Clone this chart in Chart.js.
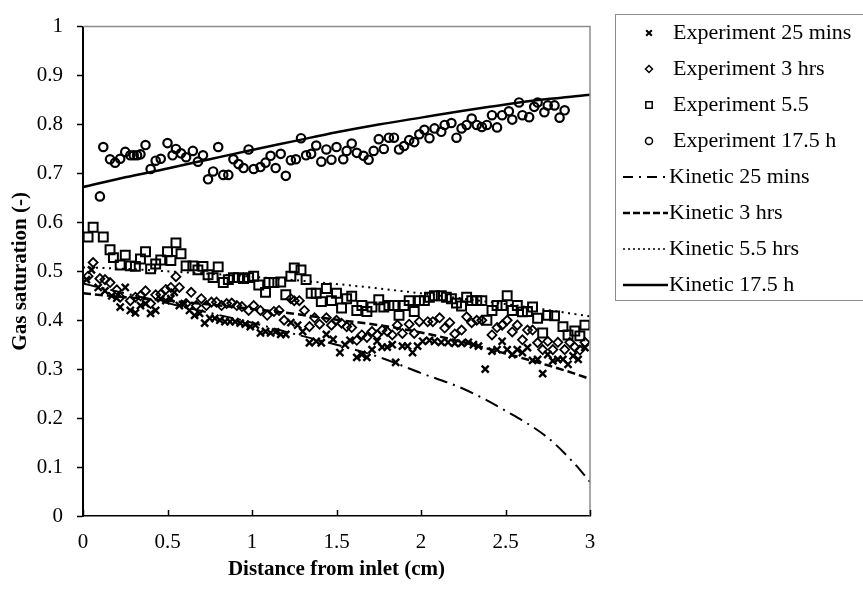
<!DOCTYPE html>
<html>
<head>
<meta charset="utf-8">
<script src="https://cdn.jsdelivr.net/npm/chart.js@4.4.1/dist/chart.umd.min.js"></script>
<style>
body { margin: 0; background: #fff; }
#wrap { width: 863px; height: 590px; }
</style>
</head>
<body>
<div id="wrap"><canvas id="chart"></canvas></div>
<script>
// Experiment 25 mins
const x25 = [0.02, 0.05, 0.09, 0.13, 0.17, 0.20, 0.22, 0.25, 0.28, 0.31, 0.34, 0.37, 0.40, 0.43, 0.46, 0.49, 0.52, 0.54, 0.57, 0.60,
  0.63, 0.66, 0.69, 0.72, 0.75, 0.78, 0.81, 0.84, 0.87, 0.90, 0.93, 0.96, 0.99, 1.02, 1.05, 1.08, 1.11, 1.14, 1.17, 1.20,
  1.23, 1.27, 1.30, 1.34, 1.38, 1.41, 1.44, 1.48, 1.52, 1.55, 1.58, 1.62, 1.65, 1.68, 1.71, 1.74, 1.77, 1.80, 1.83, 1.85,
  1.89, 1.92, 1.95, 1.98, 2.01, 2.05, 2.08, 2.12, 2.16, 2.20, 2.24, 2.28, 2.31, 2.34, 2.38, 2.42, 2.45, 2.48, 2.51, 2.54,
  2.57, 2.60, 2.63, 2.66, 2.69, 2.72, 2.75, 2.78, 2.81, 2.84, 2.87, 2.90, 2.93, 2.97];
const y25 = [0.483, 0.503, 0.467, 0.46, 0.45, 0.445, 0.427, 0.467, 0.42, 0.415, 0.43, 0.434, 0.414, 0.42, 0.444, 0.44, 0.444, 0.457, 0.43, 0.434,
  0.42, 0.41, 0.414, 0.394, 0.404, 0.404, 0.40, 0.397, 0.397, 0.397, 0.394, 0.392, 0.387, 0.39, 0.374, 0.377, 0.374, 0.376, 0.371, 0.371,
  0.395, 0.39, 0.377, 0.354, 0.357, 0.354, 0.371, 0.361, 0.334, 0.35, 0.359, 0.324, 0.33, 0.324, 0.34, 0.357, 0.345, 0.345, 0.35, 0.314,
  0.347, 0.347, 0.334, 0.347, 0.357, 0.359, 0.357, 0.355, 0.355, 0.353, 0.353, 0.355, 0.35, 0.347, 0.30, 0.337, 0.34, 0.357, 0.34, 0.33,
  0.34, 0.334, 0.344, 0.318, 0.32, 0.291, 0.33, 0.317, 0.32, 0.32, 0.31, 0.327, 0.32, 0.344];

// Experiment 3 hrs
const x3 = [0.03, 0.06, 0.10, 0.13, 0.16, 0.20, 0.22, 0.28, 0.31, 0.34, 0.37, 0.40, 0.43, 0.46, 0.49, 0.52, 0.55, 0.57, 0.61, 0.64,
  0.67, 0.70, 0.73, 0.76, 0.79, 0.82, 0.85, 0.88, 0.91, 0.94, 0.98, 1.01, 1.05, 1.09, 1.13, 1.16, 1.19, 1.23, 1.25, 1.28,
  1.31, 1.34, 1.37, 1.40, 1.44, 1.47, 1.50, 1.53, 1.56, 1.59, 1.62, 1.65, 1.68, 1.71, 1.74, 1.77, 1.80, 1.83, 1.86, 1.89,
  1.93, 1.96, 1.99, 2.04, 2.07, 2.11, 2.14, 2.17, 2.20, 2.24, 2.27, 2.30, 2.33, 2.36, 2.42, 2.45, 2.48, 2.51, 2.54, 2.57,
  2.60, 2.63, 2.66, 2.69, 2.72, 2.75, 2.78, 2.81, 2.85, 2.88, 2.91, 2.94, 2.97];
const y3 = [0.49, 0.518, 0.485, 0.483, 0.477, 0.462, 0.447, 0.44, 0.447, 0.45, 0.46, 0.434, 0.452, 0.453, 0.463, 0.467, 0.489, 0.467, 0.434, 0.457,
  0.43, 0.444, 0.43, 0.437, 0.437, 0.43, 0.434, 0.435, 0.43, 0.428, 0.42, 0.43, 0.42, 0.41, 0.418, 0.42, 0.40, 0.444, 0.44, 0.44,
  0.42, 0.387, 0.405, 0.392, 0.405, 0.39, 0.40, 0.394, 0.387, 0.385, 0.359, 0.37, 0.365, 0.377, 0.37, 0.38, 0.377, 0.37, 0.39, 0.373,
  0.392, 0.373, 0.397, 0.397, 0.397, 0.405, 0.384, 0.395, 0.372, 0.38, 0.407, 0.395, 0.40, 0.40, 0.37, 0.385, 0.39, 0.40, 0.376, 0.39,
  0.36, 0.38, 0.38, 0.354, 0.34, 0.357, 0.34, 0.355, 0.34, 0.355, 0.345, 0.339, 0.355];

// Experiment 5.5
const x55 = [0.03, 0.06, 0.12, 0.16, 0.18, 0.22, 0.25, 0.28, 0.31, 0.34, 0.37, 0.40, 0.43, 0.46, 0.50, 0.52, 0.55, 0.58, 0.61, 0.65,
  0.68, 0.71, 0.74, 0.77, 0.80, 0.83, 0.86, 0.89, 0.92, 0.95, 0.98, 1.01, 1.04, 1.08, 1.10, 1.13, 1.17, 1.20, 1.23, 1.25,
  1.29, 1.32, 1.35, 1.38, 1.41, 1.44, 1.47, 1.50, 1.53, 1.56, 1.59, 1.62, 1.65, 1.68, 1.71, 1.75, 1.78, 1.81, 1.84, 1.87,
  1.90, 1.93, 1.96, 1.99, 2.02, 2.05, 2.08, 2.12, 2.15, 2.18, 2.21, 2.24, 2.27, 2.30, 2.33, 2.36, 2.39, 2.42, 2.45, 2.48,
  2.51, 2.54, 2.57, 2.60, 2.63, 2.66, 2.69, 2.72, 2.75, 2.79, 2.84, 2.87, 2.91, 2.94, 2.97];
const y55 = [0.57, 0.59, 0.57, 0.544, 0.528, 0.513, 0.533, 0.511, 0.51, 0.525, 0.54, 0.505, 0.515, 0.523, 0.54, 0.522, 0.558, 0.536, 0.511, 0.511,
  0.503, 0.51, 0.493, 0.487, 0.509, 0.477, 0.483, 0.487, 0.487, 0.485, 0.487, 0.49, 0.472, 0.457, 0.477, 0.477, 0.478, 0.452, 0.49, 0.507,
  0.503, 0.483, 0.455, 0.455, 0.438, 0.465, 0.44, 0.455, 0.425, 0.444, 0.449, 0.42, 0.43, 0.418, 0.427, 0.442, 0.427, 0.43, 0.43, 0.41,
  0.43, 0.44, 0.418, 0.44, 0.44, 0.447, 0.45, 0.45, 0.447, 0.444, 0.435, 0.429, 0.447, 0.44, 0.44, 0.44, 0.40, 0.42, 0.43, 0.43,
  0.45, 0.42, 0.43, 0.417, 0.418, 0.427, 0.404, 0.374, 0.41, 0.409, 0.387, 0.37, 0.378, 0.368, 0.39];

// Experiment 17.5 h
const x175 = [0.10, 0.12, 0.16, 0.19, 0.22, 0.25, 0.28, 0.30, 0.32, 0.34, 0.37, 0.40, 0.43, 0.46, 0.50, 0.53, 0.55, 0.58, 0.61, 0.65,
  0.68, 0.71, 0.74, 0.77, 0.80, 0.83, 0.86, 0.89, 0.92, 0.95, 0.98, 1.01, 1.05, 1.08, 1.11, 1.14, 1.17, 1.20, 1.23, 1.26,
  1.29, 1.32, 1.35, 1.38, 1.41, 1.44, 1.47, 1.50, 1.54, 1.56, 1.59, 1.62, 1.66, 1.69, 1.72, 1.75, 1.78, 1.81, 1.84, 1.87,
  1.90, 1.93, 1.96, 1.99, 2.02, 2.05, 2.08, 2.12, 2.14, 2.18, 2.21, 2.24, 2.27, 2.30, 2.33, 2.36, 2.39, 2.42, 2.45, 2.48,
  2.52, 2.54, 2.58, 2.60, 2.64, 2.67, 2.69, 2.73, 2.75, 2.79, 2.82, 2.85];
const y175 = [0.653, 0.754, 0.729, 0.722, 0.73, 0.744, 0.737, 0.737, 0.737, 0.739, 0.758, 0.709, 0.726, 0.73, 0.762, 0.737, 0.75, 0.741, 0.733, 0.746,
  0.724, 0.737, 0.688, 0.704, 0.754, 0.697, 0.697, 0.729, 0.719, 0.711, 0.749, 0.709, 0.713, 0.722, 0.736, 0.711, 0.74, 0.695, 0.727, 0.729,
  0.772, 0.737, 0.74, 0.757, 0.724, 0.749, 0.728, 0.754, 0.729, 0.746, 0.761, 0.742, 0.736, 0.728, 0.746, 0.77, 0.75, 0.773, 0.773, 0.749,
  0.756, 0.768, 0.764, 0.78, 0.789, 0.772, 0.792, 0.785, 0.799, 0.803, 0.773, 0.792, 0.799, 0.812, 0.799, 0.795, 0.799, 0.819, 0.794, 0.819,
  0.827, 0.81, 0.845, 0.819, 0.815, 0.836, 0.845, 0.825, 0.839, 0.839, 0.814, 0.829];

// Kinetic model curves
const kinX = [0, 0.25, 0.5, 0.75, 1, 1.25, 1.5, 1.75, 2, 2.25, 2.5, 2.75, 2.9, 3];
const kin25 = [0.475, 0.455, 0.435, 0.415, 0.395, 0.372, 0.35, 0.325, 0.292, 0.26, 0.215, 0.16, 0.11, 0.07];
const kin3 = [0.455, 0.447, 0.44, 0.432, 0.423, 0.413, 0.401, 0.39, 0.375, 0.355, 0.332, 0.308, 0.292, 0.28];
const kin55 = [0.508, 0.505, 0.50, 0.495, 0.489, 0.482, 0.474, 0.465, 0.455, 0.444, 0.433, 0.421, 0.413, 0.408];
const kin175 = [0.672, 0.692, 0.71, 0.729, 0.748, 0.766, 0.784, 0.80, 0.814, 0.828, 0.841, 0.852, 0.857, 0.861];

const xTicks = [0, 0.5, 1, 1.5, 2, 2.5, 3];

function pts(xs, ys) {
    return xs.map(function (x, i) { return { x: x, y: ys[i] }; });
}

function fmt(v) {
    return String(Number(v.toFixed(1)));
}

const serif = 'Liberation Serif, Times New Roman, serif';

function markerSet(label, xs, ys, style, r, bw) {
    return {
        label: label, data: pts(xs, ys), showLine: false, order: 1,
        pointStyle: style, pointRadius: r, pointHoverRadius: r,
        pointBorderWidth: bw, pointBorderColor: '#000', pointBackgroundColor: 'rgba(0,0,0,0)'
    };
}

function lineSet(label, ys, dash, w) {
    return {
        label: label, data: pts(kinX, ys), showLine: true, order: 0,
        borderColor: '#000', borderWidth: w, borderDash: dash,
        pointRadius: 0, cubicInterpolationMode: 'monotone'
    };
}

const legendItems = [
    { text: 'Experiment 25 mins', style: 'crossRot', r: 4, bw: 2 },
    { text: 'Experiment 3 hrs', style: 'rectRot', r: 3.5, bw: 1.5 },
    { text: 'Experiment 5.5', style: 'rect', r: 4.5, bw: 1.5 },
    { text: 'Experiment 17.5 h', style: 'circle', r: 3.5, bw: 1.5 },
    { text: 'Kinetic 25 mins', dash: [10, 6, 2, 6], w: 2 },
    { text: 'Kinetic 3 hrs', dash: [7, 3], w: 2.5 },
    { text: 'Kinetic 5.5 hrs', dash: [2, 3], w: 1.5 },
    { text: 'Kinetic 17.5 h', dash: [], w: 2.5 }
];

const decorPlugin = {
    id: 'decor',
    afterDraw: function (chart) {
        const ctx = chart.ctx;
        const a = chart.chartArea;
        const xs = chart.scales.x;
        ctx.save();
        // grey frame on top and right
        ctx.strokeStyle = '#8c8c8c';
        ctx.lineWidth = 1.5;
        ctx.beginPath();
        ctx.moveTo(a.left, a.top);
        ctx.lineTo(a.right, a.top);
        ctx.lineTo(a.right, a.bottom);
        ctx.stroke();
        // inward x ticks
        ctx.strokeStyle = '#000';
        ctx.lineWidth = 1.5;
        xTicks.forEach(function (v) {
            const px = Math.round(xs.getPixelForValue(v)) + 0.5;
            ctx.beginPath();
            ctx.moveTo(px, a.bottom);
            ctx.lineTo(px, a.bottom - 6);
            ctx.stroke();
        });
        // legend
        ctx.strokeStyle = '#8c8c8c';
        ctx.lineWidth = 1;
        ctx.strokeRect(615.5, 14.5, 270, 286);
        ctx.font = '22px ' + serif;
        ctx.fillStyle = '#000';
        ctx.textBaseline = 'middle';
        legendItems.forEach(function (it, i) {
            const y = 33 + i * 36;
            ctx.strokeStyle = '#000';
            if (it.style) {
                ctx.lineWidth = it.bw;
                ctx.setLineDash([]);
                ctx.fillStyle = 'rgba(0,0,0,0)';
                Chart.helpers.drawPoint(ctx, { pointStyle: it.style, radius: it.r, borderWidth: it.bw, rotation: 0 }, 649, y);
                ctx.fillStyle = '#000';
                ctx.fillText(it.text, 673, y);
            } else {
                ctx.lineWidth = it.w;
                ctx.setLineDash(it.dash);
                ctx.beginPath();
                ctx.moveTo(623, y);
                ctx.lineTo(668, y);
                ctx.stroke();
                ctx.setLineDash([]);
                ctx.fillStyle = '#000';
                ctx.fillText(it.text, 669, y);
            }
        });
        ctx.restore();
    }
};

new Chart(document.getElementById('chart'), {
    type: 'scatter',
    data: {
        datasets: [
            lineSet('Kinetic 25 mins', kin25, [14, 6, 2, 6], 2),
            lineSet('Kinetic 3 hrs', kin3, [8, 4], 2.5),
            lineSet('Kinetic 5.5 hrs', kin55, [2, 4.5], 2),
            lineSet('Kinetic 17.5 h', kin175, [], 2.5),
            markerSet('Experiment 25 mins', x25, y25, 'crossRot', 5, 2.4),
            markerSet('Experiment 3 hrs', x3, y3, 'rectRot', 4.5, 1.8),
            markerSet('Experiment 5.5', x55, y55, 'rect', 6.3, 2),
            markerSet('Experiment 17.5 h', x175, y175, 'circle', 4.2, 2.2)
        ]
    },
    options: {
        responsive: true,
        maintainAspectRatio: false,
        animation: false,
        devicePixelRatio: 1,
        layout: { padding: { top: 14, right: 273, left: 0, bottom: 0 } },
        plugins: { legend: { display: false }, tooltip: { enabled: false } },
        scales: {
            x: {
                type: 'linear', min: 0, max: 3,
                afterFit: function (s) { s.height = 74; },
                ticks: { stepSize: 0.5, color: '#000', padding: 14, font: { family: serif, size: 21 },
                    callback: function (v) { return fmt(v); } },
                grid: { display: false, drawTicks: false },
                border: { display: true, color: '#000', width: 1.5 },
                title: { display: true, text: 'Distance from inlet (cm)', color: '#000',
                    font: { family: serif, size: 21, weight: 'bold' }, padding: { top: 0, bottom: 8 } }
            },
            y: {
                type: 'linear', min: 0, max: 1,
                afterFit: function (s) { s.width = 83; },
                ticks: { stepSize: 0.1, color: '#000', padding: 14, font: { family: serif, size: 21 },
                    callback: function (v) { return fmt(v); } },
                grid: { drawOnChartArea: false, drawTicks: true, tickLength: 6, color: '#000', tickWidth: 1.5 },
                border: { display: true, color: '#000', width: 2 },
                title: { display: true, text: 'Gas saturation (-)', color: '#000',
                    font: { family: serif, size: 21, weight: 'bold' }, padding: { top: 8, bottom: 0 } }
            }
        }
    },
    plugins: [decorPlugin]
});
</script>
</body>
</html>
